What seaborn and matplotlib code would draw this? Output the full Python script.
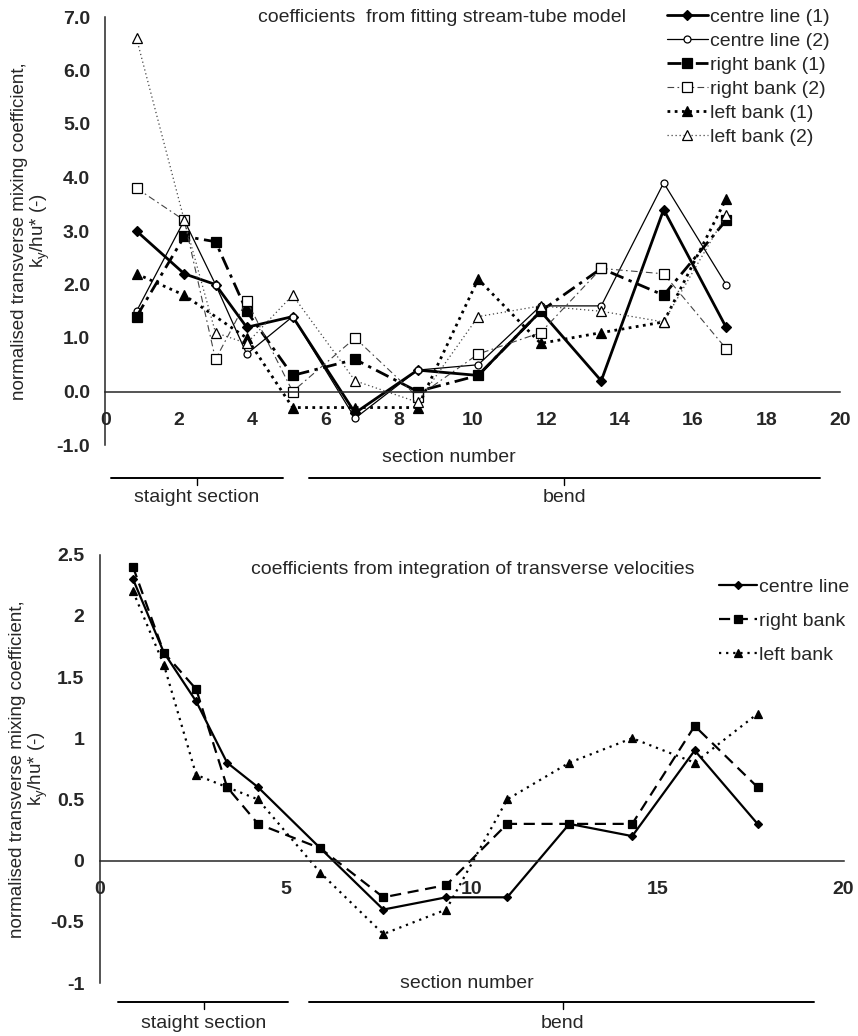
import matplotlib
matplotlib.use("Agg")
import matplotlib.pyplot as plt
from matplotlib.lines import Line2D
from matplotlib.ticker import FormatStrFormatter, MultipleLocator
import numpy as np
import pandas as pd
import seaborn as sns

# top chart: coefficients from fitting stream-tube model
fit_section = [0.85, 2.15, 3.0, 3.85, 5.1, 6.8, 8.5, 10.15, 11.85, 13.5, 15.2, 16.9]
fit_centre_1 = [3.0, 2.2, 2.0, 1.2, 1.4, -0.4, 0.4, 0.3, 1.5, 0.2, 3.4, 1.2]
fit_centre_2 = [1.5, 3.2, 2.0, 0.7, 1.4, -0.5, 0.4, 0.5, 1.6, 1.6, 3.9, 2.0]
fit_right_1 = [1.4, 2.9, 2.8, 1.5, 0.3, 0.6, 0.0, 0.3, 1.5, 2.3, 1.8, 3.2]
fit_right_2 = [3.8, 3.2, 0.6, 1.7, 0.0, 1.0, -0.1, 0.7, 1.1, 2.3, 2.2, 0.8]
fit_left_1 = [2.2, 1.8, np.nan, 1.0, -0.3, -0.3, -0.3, 2.1, 0.9, 1.1, 1.3, 3.6]
fit_left_2 = [6.6, 3.2, 1.1, 0.9, 1.8, 0.2, -0.2, 1.4, 1.6, 1.5, 1.3, 3.3]

# bottom chart: coefficients from integration of transverse velocities
int_section = [0.9, 1.73, 2.6, 3.43, 4.26, 5.94, 7.63, 9.32, 10.96, 12.63, 14.32, 16.0, 17.69]
int_centre = [2.3, 1.7, 1.3, 0.8, 0.6, 0.1, -0.4, -0.3, -0.3, 0.3, 0.2, 0.9, 0.3]
int_right = [2.4, 1.7, 1.4, 0.6, 0.3, 0.1, -0.3, -0.2, 0.3, 0.3, 0.3, 1.1, 0.6]
int_left = [2.2, 1.6, 0.7, 0.6, 0.5, -0.1, -0.6, -0.4, 0.5, 0.8, 1.0, 0.8, 1.2]

sns.set_style('white')
plt.rcParams['font.family'] = ['Liberation Sans', 'DejaVu Sans']
plt.rcParams['mathtext.default'] = 'regular'

W, H = 858, 1036
FS = 14


def fx(px):
    return px / W


def fy(py):
    return 1 - py / H


fig = plt.figure(figsize=(W / 100, H / 100), dpi=100)
ax1 = fig.add_axes([fx(105.3), fy(445), fx(840) - fx(105.3), fy(17) - fy(445)])
ax2 = fig.add_axes([fx(99.5), fy(983), fx(843.5) - fx(99.5), fy(554.6) - fy(983)])

df_fit = pd.DataFrame({'section': fit_section, 'centre line (1)': fit_centre_1,
                       'centre line (2)': fit_centre_2, 'right bank (1)': fit_right_1,
                       'right bank (2)': fit_right_2, 'left bank (1)': fit_left_1,
                       'left bank (2)': fit_left_2})
df_int = pd.DataFrame({'section': int_section, 'centre line': int_centre,
                       'right bank': int_right, 'left bank': int_left})

fit_styles = {
    'centre line (1)': dict(color='black', linewidth=2.0, linestyle='-', marker='D',
                            markersize=5.5, markerfacecolor='black'),
    'centre line (2)': dict(color='black', linewidth=0.9, linestyle='-', marker='o',
                            markersize=5, markerfacecolor='white'),
    'right bank (1)': dict(color='black', linewidth=2.0, linestyle=(0, (5, 2, 1.2, 2)),
                           marker='s', markersize=6.5, markerfacecolor='black'),
    'right bank (2)': dict(color='#444444', linewidth=0.8, linestyle=(0, (6, 3, 1.5, 3)),
                           marker='s', markersize=7, markerfacecolor='white'),
    'left bank (1)': dict(color='black', linewidth=2.0, linestyle=(0, (1, 1.6)),
                          marker='^', markersize=7, markerfacecolor='black'),
    'left bank (2)': dict(color='#444444', linewidth=0.9, linestyle=(0, (1, 2.2)),
                          marker='^', markersize=7, markerfacecolor='white'),
}
int_styles = {
    'centre line': dict(color='black', linewidth=1.6, linestyle='-', marker='D',
                        markersize=4.5, markerfacecolor='black'),
    'right bank': dict(color='black', linewidth=1.6, linestyle=(0, (5, 3)),
                       marker='s', markersize=5.5, markerfacecolor='black'),
    'left bank': dict(color='black', linewidth=1.6, linestyle=(0, (1, 2.2)),
                      marker='^', markersize=6, markerfacecolor='black'),
}

for name, st in fit_styles.items():
    sns.lineplot(data=df_fit, x='section', y=name, ax=ax1, sort=False, label=name,
                 markeredgecolor='black', markeredgewidth=0.9, **st)
for name, st in int_styles.items():
    sns.lineplot(data=df_int, x='section', y=name, ax=ax2, sort=False, label=name,
                 markeredgecolor='black', markeredgewidth=0.9, **st)

ax1.set_ylim(-1, 7)
ax1.set_xlim(0, 20)
ax1.xaxis.set_major_locator(MultipleLocator(2))
ax1.yaxis.set_major_locator(MultipleLocator(1))
ax1.yaxis.set_major_formatter(FormatStrFormatter('%.1f'))

ax2.set_ylim(-1, 2.5)
ax2.set_xlim(0, 20)
ax2.xaxis.set_major_locator(MultipleLocator(5))
ax2.yaxis.set_major_locator(MultipleLocator(0.5))
ax2.yaxis.set_major_formatter(FormatStrFormatter('%g'))

ylab = "normalised transverse mixing coefficient,\nk$_{y}$/hu* (-)"
for ax, lx in ((ax1, -0.072), (ax2, -0.066)):
    sns.despine(ax=ax)
    ax.spines['bottom'].set_position(('data', 0))
    ax.spines['bottom'].set_linewidth(1.1)
    ax.spines['left'].set_linewidth(1.1)
    ax.tick_params(axis='y', direction='out', length=5, width=1.1, pad=6, labelsize=FS)
    ax.tick_params(axis='x', direction='out', length=4, width=1.1, pad=11, labelsize=FS)
    for t in ax.get_xticklabels() + ax.get_yticklabels():
        t.set_fontweight('bold')
    ax.set_xlabel('')
    ax.set_ylabel(ylab, fontsize=13.5, linespacing=1.1)
    ax.yaxis.set_label_coords(lx, 0.5)
    ax.patch.set_alpha(0)

ax1.legend(loc='upper left', bbox_to_anchor=(fx(667), fy(8)), bbox_transform=fig.transFigure,
           frameon=False, borderaxespad=0, borderpad=0, handlelength=2.1,
           handletextpad=0.12, labelspacing=0.33, fontsize=FS)
ax2.legend(loc='upper left', bbox_to_anchor=(fx(719), fy(578)), bbox_transform=fig.transFigure,
           frameon=False, borderaxespad=0, borderpad=0, handlelength=1.95,
           handletextpad=0.12, labelspacing=0.85, fontsize=FS)

fig.text(fx(258), fy(18), 'coefficients  from fitting stream-tube model', fontsize=FS,
         va='center', ha='left')
fig.text(fx(251), fy(569), 'coefficients from integration of transverse velocities',
         fontsize=FS, va='center', ha='left')
fig.text(fx(449), fy(457), 'section number', fontsize=FS, va='center', ha='center')
fig.text(fx(467), fy(983), 'section number', fontsize=FS, va='center', ha='center')


def bracket(y, segs, labels, texty):
    for (x0, x1, xt), lab in zip(segs, labels):
        fig.add_artist(Line2D([fx(x0), fx(x1)], [fy(y), fy(y)], color='black', lw=1.4))
        fig.add_artist(Line2D([fx(xt), fx(xt)], [fy(y), fy(y + 7)], color='black', lw=1.0))
        fig.text(fx(xt), fy(texty), lab, fontsize=FS, ha='center', va='center')


bracket(477.7, [(111, 283, 197), (309, 820, 564)], ['staight section', 'bend'], 498)
bracket(1001.7, [(118, 288, 204), (309, 814, 563)], ['staight section', 'bend'], 1024)

fig.savefig('out.png', dpi=100)
